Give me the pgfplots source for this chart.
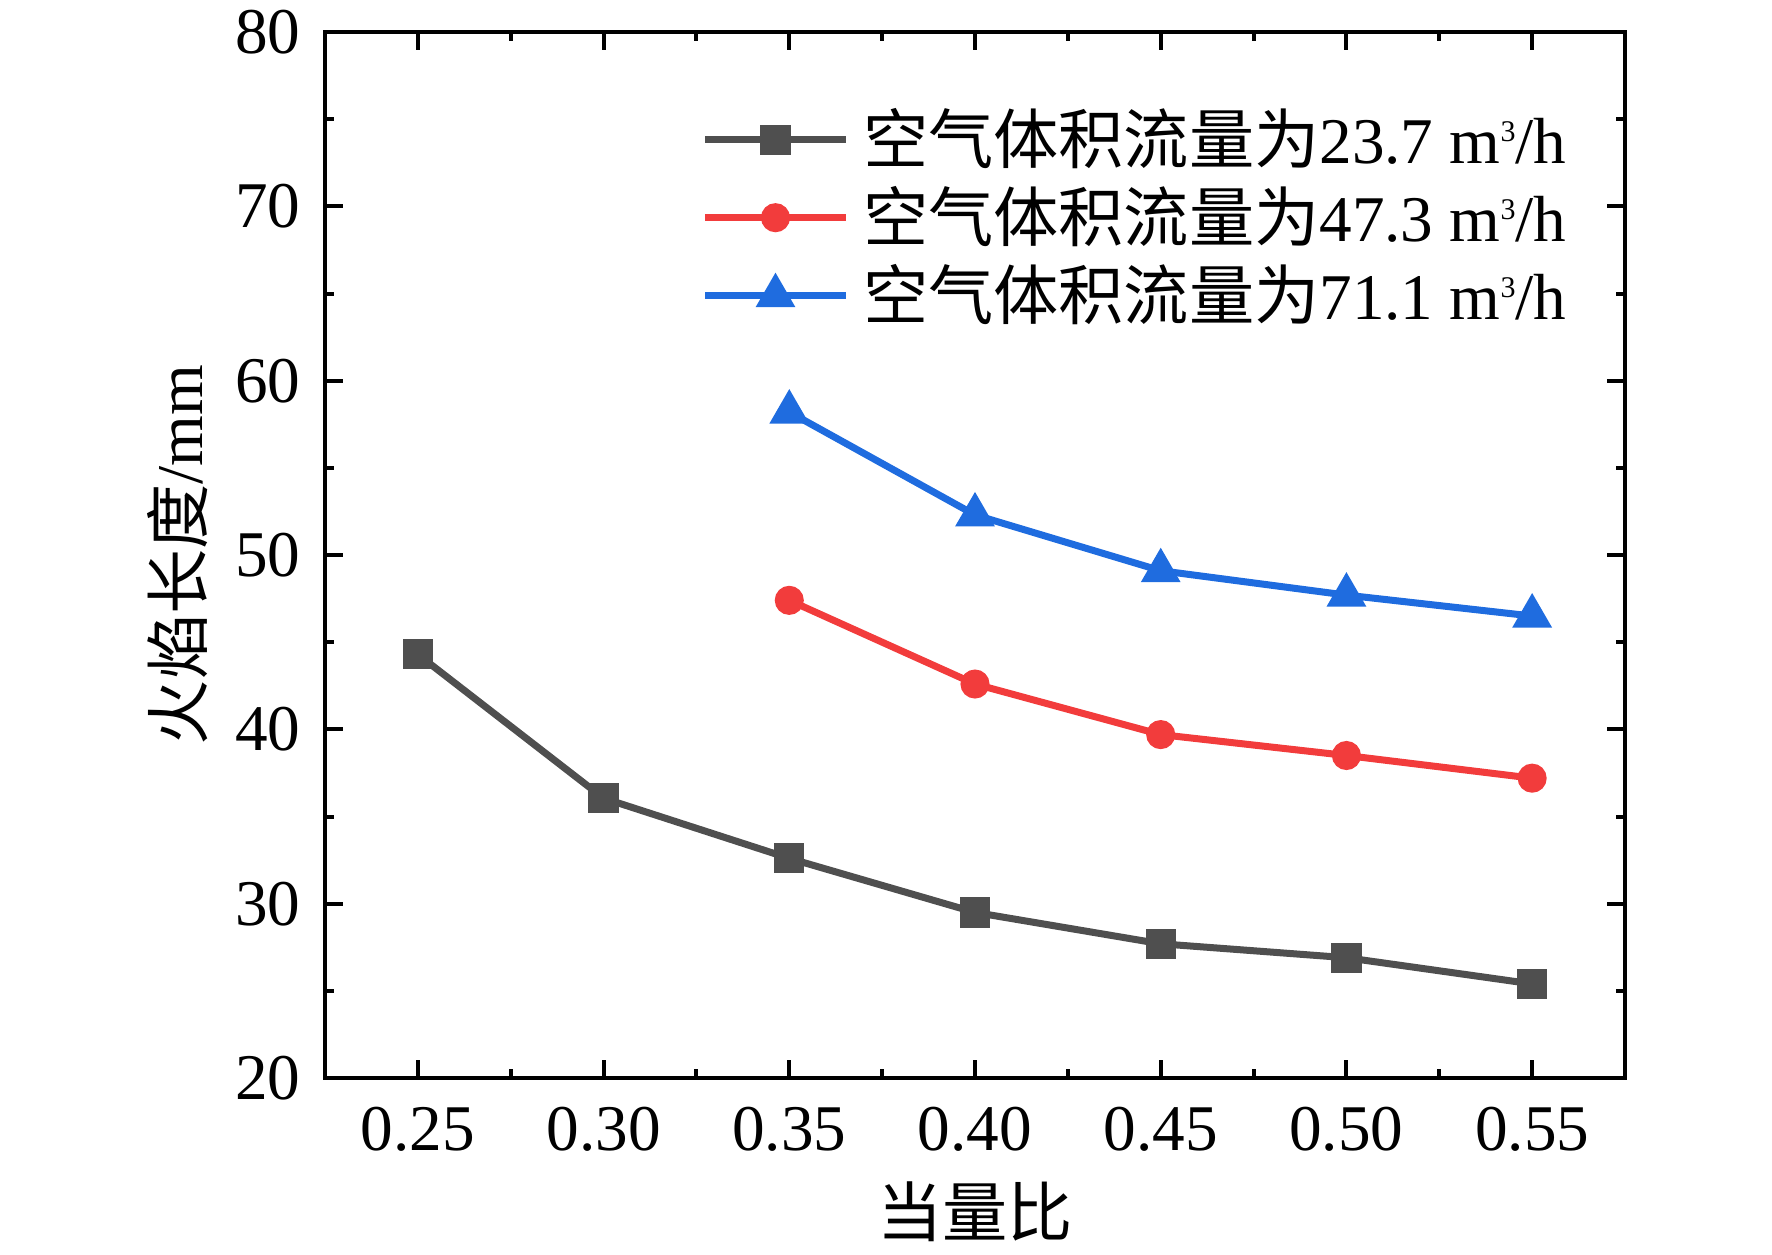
\documentclass[border=0pt]{standalone}
\usepackage{fontspec}
\setmainfont{Liberation Serif}
\newfontfamily\cjk{Noto Sans CJK SC}
\usepackage{pgfplots}
\pgfplotsset{compat=1.18}
\definecolor{cgray}{HTML}{4F4F4F}
\definecolor{cred}{HTML}{F23C3C}
\definecolor{cblue}{HTML}{1F6CDF}
\newcommand{\cube}{\raisebox{5.5pt}{\fontsize{7.5pt}{8pt}\selectfont 3}}
\begin{document}
\fontsize{16.3pt}{19pt}\selectfont
\begin{tikzpicture}
\begin{axis}[
  at={(0,0)}, anchor=south west,
  scale only axis, width=325pt, height=261.5pt,
  xmin=0.225, xmax=0.575, ymin=20, ymax=80,
  xtick={0.25,0.30,0.35,0.40,0.45,0.50,0.55},
  xticklabels={0.25,0.30,0.35,0.40,0.45,0.50,0.55},
  ytick={20,30,40,50,60,70,80},
  yticklabels={20,30,40,50,60,70,80},
  minor x tick num=1, minor y tick num=1,
  tick align=inside, major tick length=4.5pt, minor tick length=2.25pt,
  every tick/.style={black, line width=1pt},
  axis line style={line width=1pt},
  xticklabel style={anchor=north, inner sep=0pt, yshift=-7pt},
  yticklabel style={anchor=east, inner sep=0pt, xshift=-6pt},
  xlabel={\cjk 当量比},
  xlabel style={at={(axis description cs:0.5,-0.1281)}, anchor=center, inner sep=0pt},
  ylabel={{\cjk 火焰长度}/mm},
  ylabel style={at={(axis description cs:-0.1131,0.5)}, anchor=center, inner sep=0pt},
  legend cell align=left,
  legend style={draw=none, fill=none, at={(axis description cs:0.2900,0.816)}, anchor=west,
    inner sep=0pt, outer sep=0pt, row sep=0pt,
    nodes={inner xsep=3.5pt, inner ysep=2pt, text height=12pt, text depth=3.5pt}},
  legend image code/.code={\draw[mark repeat=2,mark phase=2] plot coordinates {(0pt,1.7pt) (17.5pt,1.7pt) (35pt,1.7pt)};},
]
\addplot[cgray, line width=1.75pt, mark=square*, mark size=2.9pt, mark options={solid}] coordinates {
(0.25,44.3) (0.30,36.05) (0.35,32.6) (0.40,29.5) (0.45,27.7) (0.50,26.9) (0.55,25.4)};
\addlegendentry{{\cjk 空气体积流量为}23.7 m\cube/h}
\addplot[cred, line width=1.75pt, mark=*, mark size=2.75pt, mark options={solid}] coordinates {
(0.35,47.4) (0.40,42.6) (0.45,39.7) (0.50,38.5) (0.55,37.2)};
\addlegendentry{{\cjk 空气体积流量为}47.3 m\cube/h}
\addplot[cblue, line width=1.75pt, mark=triangle*, mark size=4pt, mark options={solid}] coordinates {
(0.35,58.2) (0.40,52.3) (0.45,49.1) (0.50,47.7) (0.55,46.5)};
\addlegendentry{{\cjk 空气体积流量为}71.1 m\cube/h}
\end{axis}
\path[use as bounding box] (-81.25pt,-44pt) rectangle (361.75pt,269.5pt);
\end{tikzpicture}
\end{document}
